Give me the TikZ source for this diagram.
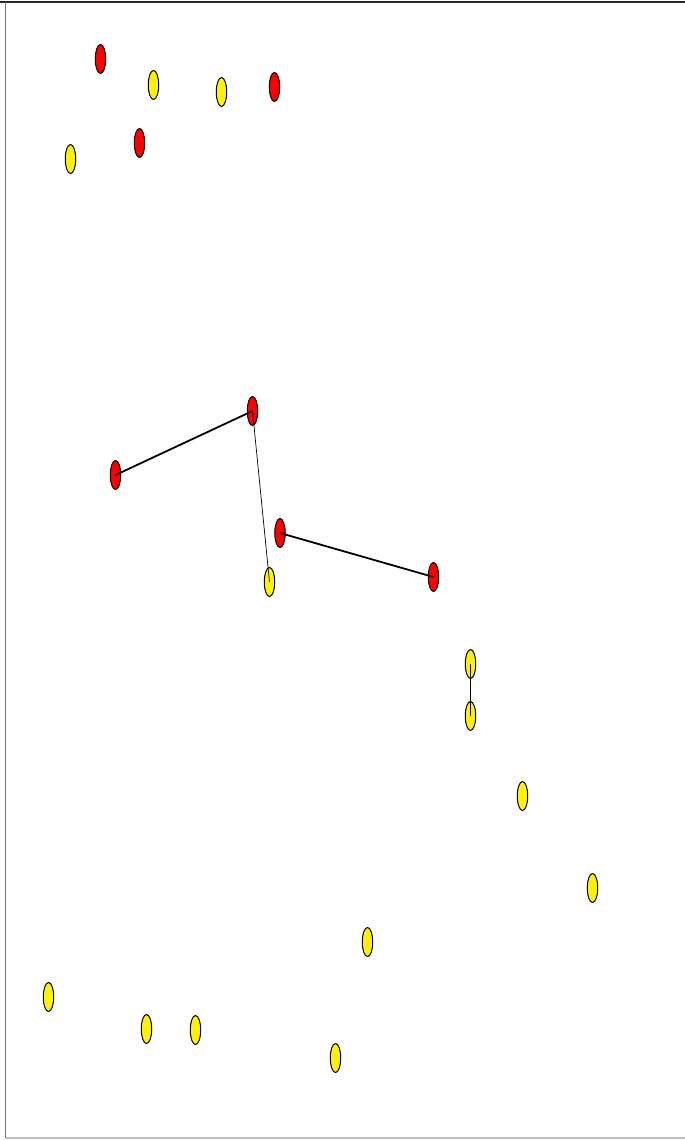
\documentclass[tikz,border=0pt]{standalone}
\usetikzlibrary{shapes.geometric}
\begin{document}
\begin{tikzpicture}[x=1pt,y=-1pt,
  rn/.style={ellipse,draw=black,line width=1pt,fill=red,minimum width=10.5pt,minimum height=29pt,inner sep=0pt},
  yn/.style={ellipse,draw=black,line width=1pt,fill=yellow,minimum width=10.5pt,minimum height=29pt,inner sep=0pt},
  thick edge/.style={line width=1.8pt,black},
  thin edge/.style={line width=0.7pt,black},
  mid edge/.style={line width=1.1pt,black}]
\useasboundingbox (0,0) rectangle (685,1140);
\fill[white] (0,0) rectangle (685,1140);
% frame
\draw[line width=1.6pt,black!85] (0,2) -- (685,2);
\draw[line width=1.4pt,black!55] (5.5,2) -- (5.5,1138);
\draw[line width=1.2pt,black!25] (5.5,1138) -- (685,1138);
% red nodes
\node[rn] (r1) at (100.5,59) {};
\node[rn] (r2) at (274.5,87) {};
\node[rn] (r3) at (139.5,143) {};
\node[rn] (r4) at (252.5,411) {};
\node[rn] (r5) at (115.5,475) {};
\node[rn] (r6) at (280,533) {};
\node[rn] (r7) at (433.5,577) {};
% yellow nodes
\node[yn] (y1) at (153.5,85) {};
\node[yn] (y2) at (221.5,92) {};
\node[yn] (y3) at (70.5,159) {};
\node[yn] (y4) at (269.5,582) {};
\node[yn] (y5) at (470.5,664) {};
\node[yn] (y6) at (470.5,716) {};
\node[yn] (y7) at (522.5,796) {};
\node[yn] (y8) at (592.5,888) {};
\node[yn] (y9) at (367.5,942) {};
\node[yn] (y10) at (48.5,997) {};
\node[yn] (y11) at (146.5,1029) {};
\node[yn] (y12) at (195.5,1030) {};
\node[yn] (y13) at (335.5,1058) {};
% edges (drawn center to center, over nodes)
\draw[thick edge] (r5.center) -- (r4.center);
\draw[thin edge] (r4.center) -- (y4.center);
\draw[thick edge] (r6.center) -- (r7.center);
\draw[mid edge] (y5.center) -- (y6.center);
\end{tikzpicture}
\end{document}
